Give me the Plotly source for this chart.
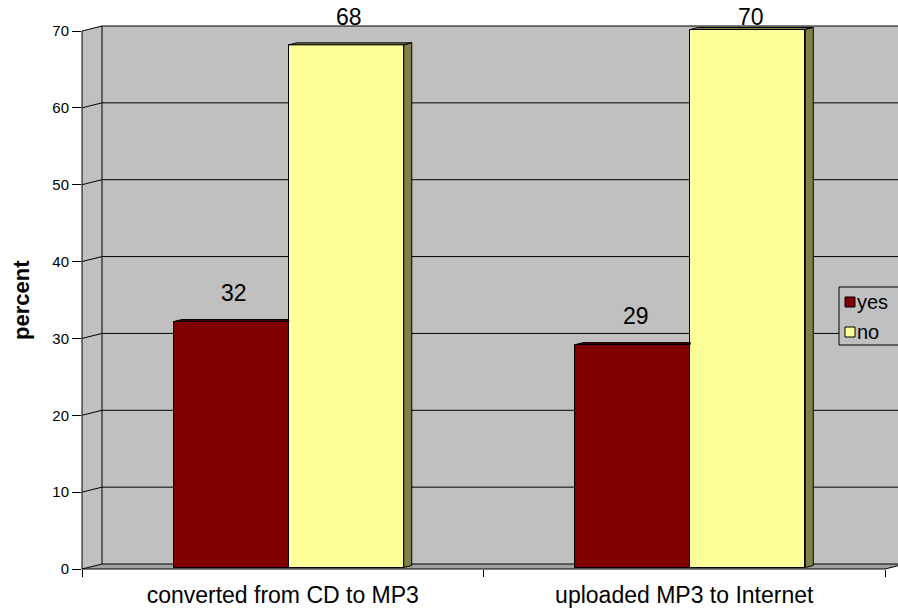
import plotly.graph_objects as go

# ---- data -------------------------------------------------------------
categories = ["converted from CD to MP3", "uploaded MP3 to Internet"]
series_names = ["yes", "no"]
yes_pct = [32, 29]
no_pct = [68, 70]
series_values = [yes_pct, no_pct]
y_ticks = [0, 10, 20, 30, 40, 50, 60, 70]

# ---- styling ----------------------------------------------------------
front_colors = ["#800000", "#FFFF99"]
top_colors = ["#400000", "#80804C"]
side_colors = ["#400000", "#80804C"]
wall_color = "#C0C0C0"
floor_color = "#A0A0A0"
line_color = "#000000"
FONT = "Arial, Liberation Sans, sans-serif"

W, H = 898, 611
ML, MR, MT, MB = 82, 0, 0, 42
PW, PH = W - ML - MR, H - MT - MB
BASE_PY = H - MB                      # pixel row of value 0 on the front plane
Y_MAX = max(y_ticks)
SY = (BASE_PY - 31) / Y_MAX           # pixels per percent
SX = 401.5                            # pixels per category slot

WALL_DX, WALL_DY = 20, 5              # depth of the walls
BAR_SHIFT_X, BAR_SHIFT_Y = 6, 1.5     # bars sit a little behind the front plane
BAR_DX, BAR_DY = 8, 2                 # depth of each bar
BAR_PX = 115                          # bar width in pixels
BAR_W = BAR_PX / SX                   # bar width in category units

x_range = [-0.5, -0.5 + PW / SX]
y_range = [0, BASE_PY / SY]
x2_range = [x_range[0] - BAR_SHIFT_X / SX, x_range[1] - BAR_SHIFT_X / SX]
y2_range = [y_range[0] - BAR_SHIFT_Y / SY, y_range[1] - BAR_SHIFT_Y / SY]


def xp(px):
    return (px - ML) / PW


def yp(py):
    return (BASE_PY - py) / PH


def front_py(v):
    return BASE_PY - v * SY


def cat_px(i):
    return ML + (i - x_range[0]) * SX


def poly(points):
    return "M " + " L ".join(f"{xp(a):.5f},{yp(b):.5f}" for a, b in points) + " Z"


shapes = []
left_px = ML
right_px = cat_px(len(categories) - 0.5)
top_py = front_py(Y_MAX)

# walls and floor
shapes.append(dict(type="path", xref="paper", yref="paper", layer="below",
                   path=poly([(left_px + WALL_DX, top_py - WALL_DY),
                              (right_px + WALL_DX + 40, top_py - WALL_DY),
                              (right_px + WALL_DX + 40, BASE_PY - WALL_DY),
                              (left_px + WALL_DX, BASE_PY - WALL_DY)]),
                   fillcolor=wall_color, line=dict(width=0)))
shapes.append(dict(type="path", xref="paper", yref="paper", layer="below",
                   path=poly([(left_px, BASE_PY), (left_px, top_py),
                              (left_px + WALL_DX, top_py - WALL_DY),
                              (left_px + WALL_DX, BASE_PY - WALL_DY)]),
                   fillcolor=wall_color, line=dict(width=0)))
shapes.append(dict(type="path", xref="paper", yref="paper", layer="below",
                   path=poly([(left_px, BASE_PY), (left_px + WALL_DX, BASE_PY - WALL_DY),
                              (right_px + WALL_DX, BASE_PY - WALL_DY), (right_px, BASE_PY)]),
                   fillcolor=floor_color, line=dict(width=0)))

# gridlines on the back wall and the side wall
for v in y_ticks:
    fy = front_py(v)
    shapes.append(dict(type="line", xref="paper", yref="paper", layer="below",
                       x0=xp(left_px + WALL_DX), x1=xp(right_px + WALL_DX + 40),
                       y0=yp(fy - WALL_DY), y1=yp(fy - WALL_DY),
                       line=dict(color=line_color, width=1)))
    shapes.append(dict(type="line", xref="paper", yref="paper", layer="below",
                       x0=xp(left_px), x1=xp(left_px + WALL_DX),
                       y0=yp(fy), y1=yp(fy - WALL_DY),
                       line=dict(color=line_color, width=1)))

# wall edges and axis lines
shapes.append(dict(type="line", xref="paper", yref="paper", layer="below",
                   x0=xp(left_px + WALL_DX), x1=xp(left_px + WALL_DX),
                   y0=yp(BASE_PY - WALL_DY), y1=yp(top_py - WALL_DY),
                   line=dict(color=line_color, width=1)))
shapes.append(dict(type="line", xref="paper", yref="paper", layer="above",
                   x0=xp(left_px), x1=xp(left_px), y0=yp(BASE_PY), y1=yp(top_py),
                   line=dict(color=line_color, width=1)))
shapes.append(dict(type="path", xref="paper", yref="paper", layer="above",
                   path="M " + f"{xp(left_px):.5f},{yp(BASE_PY):.5f} L {xp(right_px):.5f},{yp(BASE_PY):.5f} "
                        f"L {xp(right_px + WALL_DX):.5f},{yp(BASE_PY - WALL_DY):.5f}",
                   line=dict(color=line_color, width=1)))

# bar top and side faces
n_series = len(series_values)
for i in range(len(categories)):
    for k in range(n_series):
        v = series_values[k][i]
        xl = cat_px(i) + BAR_SHIFT_X + (k - n_series / 2) * BAR_PX
        xr = xl + BAR_PX
        t = front_py(v) - BAR_SHIFT_Y
        b = BASE_PY - BAR_SHIFT_Y
        nxt = series_values[k + 1][i] if k + 1 < n_series else None
        hidden_right = nxt is not None and nxt >= v
        top_right_back = xr if hidden_right else xr + BAR_DX
        shapes.append(dict(type="path", xref="paper", yref="paper", layer="above",
                           path=poly([(xl, t), (xl + BAR_DX, t - BAR_DY),
                                      (top_right_back, t - BAR_DY), (xr, t)]),
                           fillcolor=top_colors[k], line=dict(color=line_color, width=1)))
        if not hidden_right:
            side_bottom = b if nxt is None else front_py(nxt) - BAR_SHIFT_Y
            shapes.append(dict(type="path", xref="paper", yref="paper", layer="above",
                               path=poly([(xr, t), (xr + BAR_DX, t - BAR_DY),
                                          (xr + BAR_DX, side_bottom - BAR_DY), (xr, side_bottom)]),
                               fillcolor=side_colors[k], line=dict(color=line_color, width=1)))

# legend box
LEG_X0, LEG_Y0, LEG_Y1 = 839, 287, 345
shapes.append(dict(type="rect", xref="paper", yref="paper", layer="above",
                   x0=xp(LEG_X0), x1=xp(W + 10), y0=yp(LEG_Y1), y1=yp(LEG_Y0),
                   fillcolor=wall_color, line=dict(color=line_color, width=1)))
legend_rows = [302, 332]
annotations = []
for k, name in enumerate(series_names):
    cy = legend_rows[k]
    shapes.append(dict(type="rect", xref="paper", yref="paper", layer="above",
                       x0=xp(LEG_X0 + 6), x1=xp(LEG_X0 + 16), y0=yp(cy + 5), y1=yp(cy - 5),
                       fillcolor=front_colors[k], line=dict(color=line_color, width=1)))
    annotations.append(dict(xref="paper", yref="paper", x=xp(LEG_X0 + 16), y=yp(cy),
                            xanchor="left", yanchor="middle", text=name, showarrow=False,
                            font=dict(family=FONT, size=20, color="black")))

fig = go.Figure()
for k, name in enumerate(series_names):
    fig.add_trace(go.Bar(
        x=list(range(len(categories))), y=series_values[k], name=name,
        xaxis="x2", yaxis="y2", width=BAR_W, offset=(k - n_series / 2) * BAR_W,
        marker=dict(color=front_colors[k], line=dict(color=line_color, width=1)),
        customdata=categories, hovertemplate="%{customdata}<br>" + name + ": %{y}%<extra></extra>",
        showlegend=False,
    ))

# value labels above each bar
LABEL_GAP = 12
LABEL_MIN_BOTTOM = 32
for k in range(n_series):
    for i, v in enumerate(series_values[k]):
        anchor_py = front_py(v) - BAR_SHIFT_Y
        bottom = max(anchor_py - BAR_DY - LABEL_GAP, LABEL_MIN_BOTTOM)
        annotations.append(dict(xref="x2", yref="y2", x=i + (k - n_series / 2 + 0.5) * BAR_W, y=v,
                                xanchor="center", yanchor="bottom", xshift=3,
                                yshift=anchor_py - bottom, text=str(v), showarrow=False,
                                font=dict(family=FONT, size=23, color="black")))

annotations.append(dict(xref="paper", yref="paper", x=xp(21), y=yp(300), text="<b>percent</b>",
                        textangle=-90, showarrow=False, xanchor="center", yanchor="middle",
                        font=dict(family=FONT, size=22, color="black")))

fig.update_layout(
    width=W, height=H, margin=dict(l=ML, r=MR, t=MT, b=MB),
    paper_bgcolor="white", plot_bgcolor="rgba(0,0,0,0)",
    showlegend=False, bargap=0, bargroupgap=0,
    shapes=shapes, annotations=annotations,
    xaxis=dict(type="category", categoryorder="array", categoryarray=categories,
               tickmode="array", tickvals=categories, ticktext=categories,
               range=x_range, tickson="boundaries", ticks="outside", ticklen=7,
               ticklabelstandoff=10,
               tickcolor=line_color, showgrid=False, showline=False, zeroline=False,
               tickfont=dict(family=FONT, size=23, color="black")),
    yaxis=dict(range=y_range, tickmode="array", tickvals=y_ticks, ticks="outside", ticklen=9,
               tickcolor=line_color, showgrid=False, showline=False, zeroline=False,
               tickfont=dict(family=FONT, size=15, color="black")),
    xaxis2=dict(overlaying="x", range=x2_range, visible=False, fixedrange=True),
    yaxis2=dict(overlaying="y", range=y2_range, visible=False, fixedrange=True),
)

# invisible points that register the categories on the front axis
fig.add_trace(go.Scatter(x=categories, y=[0, 0], mode="markers", marker=dict(opacity=0),
                         hoverinfo="skip", showlegend=False))

fig.write_html("out.html")
